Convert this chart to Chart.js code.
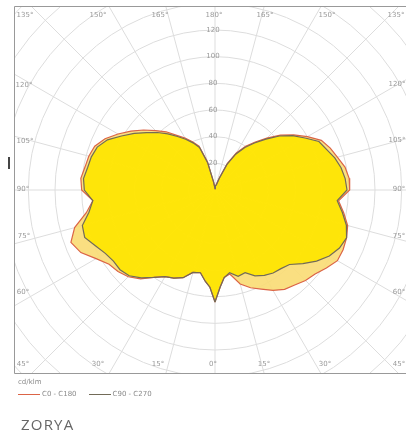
<!DOCTYPE html>
<html>
<head>
<meta charset="utf-8">
<script src="https://cdn.jsdelivr.net/npm/chart.js@4.4.0/dist/chart.umd.min.js"></script>
<style>
  html, body { margin: 0; padding: 0; background: #fff; }
  #wrap { position: relative; width: 406px; height: 442px; overflow: hidden; font-family: "DejaVu Sans", sans-serif; }
  #chart { position: absolute; left: 0; top: 0; }
  #unit { position: absolute; left: 18px; top: 378px; font-size: 7px; color: #8a8a8a; }
  #legend { position: absolute; left: 18px; top: 390px; font-size: 7px; color: #8a8a8a; display: flex; align-items: center; }
  .item { display: flex; align-items: center; margin-right: 12px; }
  .swatch { width: 22px; height: 0; border-top: 1px solid; margin-right: 2px; }
  #title { position: absolute; left: 21px; top: 414px; font-size: 15px; letter-spacing: 1.2px; color: #666; font-family: "Open Sans", sans-serif; }
</style>
</head>
<body>
<div id="wrap">
  <canvas id="chart" width="406" height="442"></canvas>
  <div id="unit"></div>
  <div id="legend"></div>
  <div id="title"></div>
</div>
<script>
// Gamma angles (0 = straight down, 180 = straight up)
const angles = [0, 3, 6, 10, 15, 20, 25, 30, 35, 40, 45, 50, 55, 60, 65, 70, 75, 80, 85, 90,
  95, 100, 105, 110, 115, 120, 125, 130, 135, 140, 145, 150, 155, 160, 165, 170, 175, 180];

// Intensities in cd/klm
const c0 = [84, 73, 66, 64, 73, 78, 82, 87, 91, 93, 96, 98, 102, 106, 106, 105, 103, 98, 93, 101,
  101, 99, 95, 92, 88, 80, 72, 64, 55, 47, 40, 32, 22, 10, 5, 3, 2, 1];
const c180 = [84, 73, 69, 63, 64, 70, 73, 75, 80, 87, 92, 95, 97, 103, 111, 115, 109, 98, 92, 100,
  101, 99, 98, 96, 91, 84, 77, 70, 63, 57, 50, 45, 40, 35, 22, 6, 2, 1];
const c90 = [84, 73, 66, 63, 67, 66, 71, 74, 76, 77, 79, 86, 93, 99, 103, 105, 102, 97, 92, 99,
  98, 96, 93, 89, 86, 78, 71, 63, 54, 46, 39, 31, 21, 9, 4, 3, 2, 1];
const c270 = [84, 73, 69, 63, 64, 70, 73, 75, 80, 86, 91, 93, 93, 95, 99, 104, 103, 96, 92, 98,
  99, 97, 96, 94, 89, 81, 74, 67, 61, 55, 49, 44, 39, 34, 21, 6, 2, 1];

const seriesNames = ["C0 - C180", "C90 - C270"];
const radialTicks = [20, 40, 60, 80, 100, 120];
const unitLabel = "cd/klm";
const titleText = "ZORYA";

// angle labels round the frame: text, x, y (pixels)
const edgeLabels = [
  ["135°", 25, 15], ["150°", 98, 15], ["165°", 160, 15], ["180°", 214, 15],
  ["165°", 265, 15], ["150°", 327, 15], ["135°", 396, 15],
  ["120°", 24, 85], ["105°", 25, 141], ["90°", 23, 189], ["75°", 24, 236], ["60°", 23, 292],
  ["120°", 397, 84], ["105°", 397, 140], ["90°", 399, 189], ["75°", 399, 236], ["60°", 399, 292],
  ["45°", 23, 364], ["30°", 98, 364], ["15°", 158, 364], ["0°", 213, 364],
  ["15°", 264, 364], ["30°", 325, 364], ["45°", 399, 364]
];

const redLine = "#db6446";
const greyLine = "#726b58";

// Turn two half-planes (left, right) into one closed loop of x/y points
function polarLoop(left, right) {
  const pts = [];
  angles.forEach((a, i) => {
    const t = a * Math.PI / 180;
    pts.push({ x: -left[i] * Math.sin(t), y: -left[i] * Math.cos(t) });
  });
  for (let i = angles.length - 1; i >= 0; i--) {
    const t = angles[i] * Math.PI / 180;
    pts.push({ x: right[i] * Math.sin(t), y: -right[i] * Math.cos(t) });
  }
  return pts;
}

// Polar grid, radial tick labels, frame and angle labels
const polarGrid = {
  id: "polarGrid",
  beforeDraw(chart) {
    const { ctx, chartArea: area, scales: { x, y } } = chart;
    const cx = x.getPixelForValue(0);
    const cy = y.getPixelForValue(0);
    const k = x.getPixelForValue(1) - cx;
    ctx.save();
    ctx.beginPath();
    ctx.rect(area.left, area.top, area.right - area.left, area.bottom - area.top);
    ctx.clip();
    ctx.strokeStyle = "#dddddd";
    ctx.lineWidth = 1;
    for (let r = 20; r <= 220; r += 20) {
      ctx.beginPath();
      ctx.arc(cx, cy, r * k, 0, Math.PI * 2);
      ctx.stroke();
    }
    for (let a = 0; a < 360; a += 15) {
      const t = a * Math.PI / 180;
      ctx.beginPath();
      ctx.moveTo(cx, cy);
      ctx.lineTo(cx + Math.sin(t) * 260 * k, cy + Math.cos(t) * 260 * k);
      ctx.stroke();
    }
    ctx.fillStyle = "#999";
    ctx.font = "7px 'DejaVu Sans'";
    ctx.textAlign = "center";
    ctx.textBaseline = "middle";
    radialTicks.forEach(v => {
      ctx.fillText(String(v), cx - 2, y.getPixelForValue(v));
    });
    ctx.restore();
  },
  afterDraw(chart) {
    const { ctx, chartArea: area } = chart;
    ctx.save();
    ctx.strokeStyle = "#999";
    ctx.lineWidth = 1;
    ctx.beginPath();
    ctx.moveTo(area.right, area.top + 0.5);
    ctx.lineTo(area.left + 0.5, area.top + 0.5);
    ctx.lineTo(area.left + 0.5, area.bottom - 0.5);
    ctx.lineTo(area.right, area.bottom - 0.5);
    ctx.stroke();
    ctx.fillStyle = "#444";
    ctx.fillRect(area.left - 6, 157, 2, 12);
    ctx.fillStyle = "#999";
    ctx.font = "7px 'DejaVu Sans'";
    ctx.textAlign = "center";
    ctx.textBaseline = "middle";
    edgeLabels.forEach(([t, px, py]) => ctx.fillText(t, px, py));
    ctx.restore();
  }
};

new Chart(document.getElementById("chart"), {
  type: "line",
  data: {
    datasets: [
      {
        label: seriesNames[1],
        data: polarLoop(c270, c90),
        borderColor: greyLine,
        borderWidth: 1.2,
        backgroundColor: "rgba(255, 230, 0, 0.92)",
        fill: "shape",
        pointRadius: 0,
        tension: 0
      },
      {
        label: seriesNames[0],
        data: polarLoop(c180, c0),
        borderColor: redLine,
        borderWidth: 1.2,
        backgroundColor: "rgba(250, 220, 118, 0.92)",
        fill: "shape",
        pointRadius: 0,
        tension: 0
      }
    ]
  },
  options: {
    responsive: false,
    animation: false,
    layout: { padding: { left: 14, top: 6, right: 0, bottom: 68 } },
    scales: {
      x: { type: "linear", min: -150.75, max: 143.25, display: false },
      y: { type: "linear", min: -138, max: 138, display: false }
    },
    plugins: {
      legend: { display: false },
      tooltip: { enabled: false },
      filler: { drawTime: "beforeDatasetsDraw" }
    }
  },
  plugins: [polarGrid]
});

// legend and title as page text
document.getElementById("unit").textContent = unitLabel;
const legend = document.getElementById("legend");
[[seriesNames[0], redLine], [seriesNames[1], greyLine]].forEach(([name, color]) => {
  const item = document.createElement("div");
  item.className = "item";
  item.innerHTML = `<span class="swatch" style="border-color:${color}"></span><span>${name}</span>`;
  legend.appendChild(item);
});
document.getElementById("title").textContent = titleText;
</script>
</body>
</html>
